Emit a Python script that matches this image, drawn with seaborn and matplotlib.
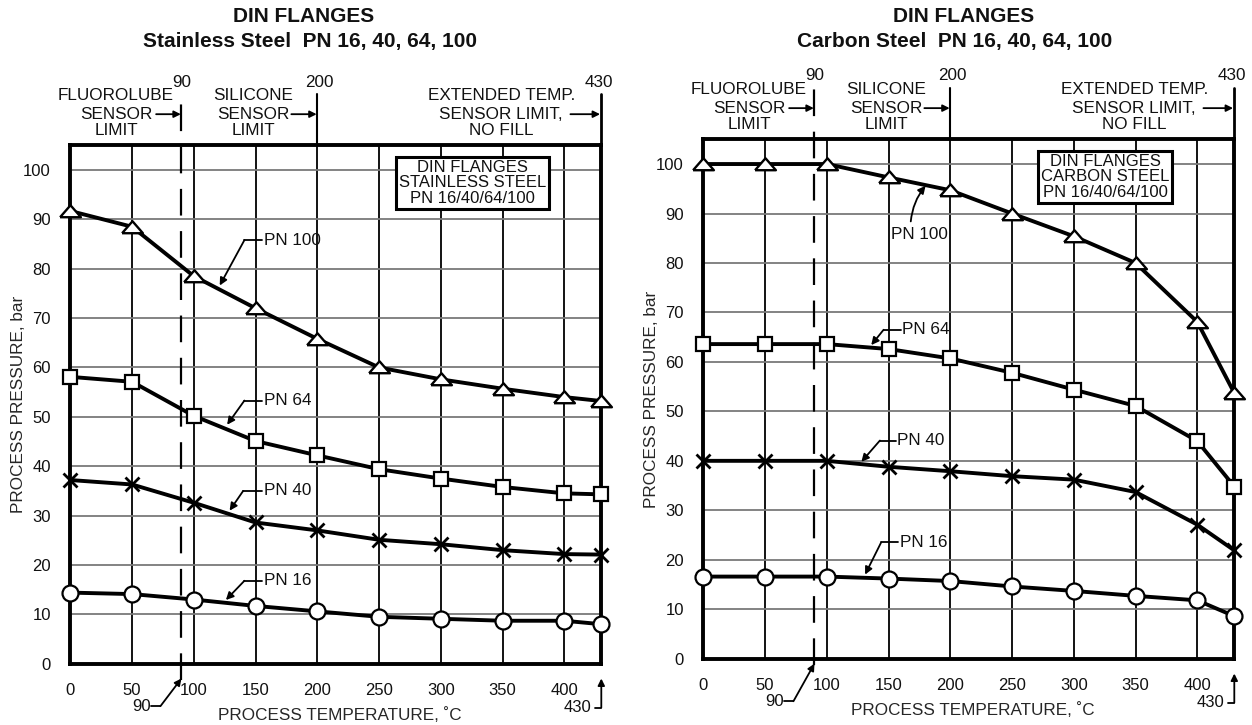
import matplotlib
matplotlib.use("Agg")
import matplotlib.pyplot as plt
from matplotlib import font_manager
import seaborn as sns

# process temperature, deg C
temps = [0, 50, 100, 150, 200, 250, 300, 350, 400, 430]
pn_labels = ["PN 100", "PN 64", "PN 40", "PN 16"]

# stainless steel, bar
ss_pn100 = [91.7, 88.5, 78.5, 72.0, 65.8, 60.0, 57.6, 55.7, 54.0, 53.2]
ss_pn64 = [58.1, 57.1, 50.2, 45.1, 42.2, 39.4, 37.5, 35.8, 34.5, 34.3]
ss_pn40 = [37.2, 36.3, 32.6, 28.6, 27.0, 25.1, 24.2, 23.0, 22.2, 22.1]
ss_pn16 = [14.4, 14.1, 13.0, 11.7, 10.6, 9.5, 9.1, 8.7, 8.7, 8.0]

# carbon steel, bar
cs_pn100 = [100.0, 100.0, 100.0, 97.3, 94.7, 90.0, 85.4, 80.0, 68.1, 53.7]
cs_pn64 = [63.6, 63.6, 63.6, 62.6, 60.7, 57.8, 54.4, 51.1, 44.0, 34.8]
cs_pn40 = [40.0, 40.0, 40.0, 38.8, 37.9, 36.9, 36.2, 33.7, 27.1, 21.9]
cs_pn16 = [16.6, 16.6, 16.6, 16.2, 15.7, 14.6, 13.7, 12.7, 11.8, 8.6]

x_ticks = [0, 50, 100, 150, 200, 250, 300, 350, 400, 430]
x_ticklabels = ["0", "50", "100", "150", "200", "250", "300", "350", "400", ""]
y_ticks = list(range(0, 101, 10))

sns.set_style("white")
available = {f.name for f in font_manager.fontManager.ttflist}
base_font = "Liberation Sans" if "Liberation Sans" in available else "DejaVu Sans"
plt.rcParams["font.family"] = [base_font, "DejaVu Sans"]
plt.rcParams["text.color"] = "#111111"

# the drawing uses wide, flat triangles
flat_triangle = [(-1, -0.55), (1, -0.55), (0, 0.6), (-1, -0.55)]
MARKERS = {
    "PN 100": dict(marker=flat_triangle, ms=15, mew=1.7),
    "PN 64": dict(marker="s", ms=10.5, mew=1.6),
    "PN 40": dict(marker="x", ms=10, mew=2.0),
    "PN 16": dict(marker="o", ms=11.5, mew=1.6),
}
FS = 12.3
TICK_FS = 12


def leader(ax, label, text_xy, corner_xy, tip_xy):
    """horizontal stub from text, then arrow down to the curve"""
    ax.plot([corner_xy[0], text_xy[0] - 1], [corner_xy[1], text_xy[1]],
            color="k", lw=1.3, clip_on=False, zorder=6)
    ax.annotate("", xy=tip_xy, xytext=corner_xy,
                arrowprops=dict(arrowstyle="-|>", color="k", lw=1.3,
                                mutation_scale=11, shrinkA=0, shrinkB=0),
                zorder=6)
    ax.text(text_xy[0], text_xy[1], label, ha="left", va="center",
            fontsize=FS, zorder=6)


def draw_panel(ax, series, box_text, leaders, bottom90_tip, dash_bottom):
    ax.set_xlim(0, 430)
    ax.set_ylim(0, 105)

    for label, vals in zip(pn_labels, series):
        sns.lineplot(x=temps, y=vals, ax=ax, color="k", lw=2.8,
                     mfc="white", mec="k", clip_on=False, zorder=5,
                     **MARKERS[label])

    ax.set_xticks(x_ticks)
    ax.set_xticklabels(x_ticklabels)
    ax.set_yticks(y_ticks)
    ax.tick_params(axis="both", direction="out", length=9, width=1.3,
                   labelsize=TICK_FS, pad=5, color="k", labelcolor="#111111")
    ax.set_axisbelow(True)
    ax.grid(axis="x", color="k", lw=1.3)
    ax.grid(axis="y", color="#7a7a7a", lw=1.3)
    for sp in ax.spines.values():
        sp.set_visible(True)
        sp.set_linewidth(2.8)
        sp.set_color("k")

    ax.set_xlabel("PROCESS TEMPERATURE, \u02daC", fontsize=FS, va="center")
    ax.xaxis.set_label_coords(218 / 430, -10.4 / 105)
    ax.set_ylabel("PROCESS PRESSURE, bar", fontsize=FS, va="center")
    ax.yaxis.set_label_coords(-0.098, 0.5)

    # limit lines sticking out above the frame
    ax.plot([200, 200], [105, 115.4], color="k", lw=1.5, clip_on=False)
    ax.plot([430, 430], [105, 115.4], color="k", lw=2.0, clip_on=False)
    ax.plot([90, 90], [dash_bottom, 115.4], color="k", lw=1.6,
            dashes=(12, 7), clip_on=False, zorder=3)

    for xv, txt in [(90.5, "90"), (201.5, "200"), (428, "430")]:
        ax.text(xv, 117.8, txt, ha="center", va="center", fontsize=FS,
                clip_on=False)

    blocks = [
        (37, ["FLUOROLUBE", "SENSOR", "LIMIT"], (69.5, 89.5)),
        (148, ["SILICONE", "SENSOR", "LIMIT"], (179, 199.5)),
        (349, ["EXTENDED TEMP.", "SENSOR LIMIT,", "NO FILL"], (405, 429)),
    ]
    for xc, lines, (a0, a1) in blocks:
        for yv, txt in zip([115.0, 111.3, 107.9], lines):
            ax.text(xc, yv, txt, ha="center", va="center", fontsize=FS,
                    clip_on=False)
        ax.annotate("", xy=(a1, 111.3), xytext=(a0, 111.3),
                    arrowprops=dict(arrowstyle="-|>", color="k", lw=1.3,
                                    mutation_scale=10, shrinkA=0, shrinkB=0),
                    annotation_clip=False)

    # bottom call-outs for 90 and 430
    ax.plot([65.5, 73], [-8.6, -8.6], color="k", lw=1.3, clip_on=False)
    ax.annotate("", xy=(90, bottom90_tip), xytext=(73, -8.6),
                arrowprops=dict(arrowstyle="-|>", color="k", lw=1.3,
                                mutation_scale=10, shrinkA=0, shrinkB=0),
                annotation_clip=False)
    ax.text(65, -8.6, "90", ha="right", va="center", fontsize=TICK_FS)
    ax.plot([425, 430], [-8.9, -8.9], color="k", lw=1.3, clip_on=False)
    ax.annotate("", xy=(430, -3.0), xytext=(430, -8.9),
                arrowprops=dict(arrowstyle="-|>", color="k", lw=1.3,
                                mutation_scale=10, shrinkA=0, shrinkB=0),
                annotation_clip=False)
    ax.text(422, -8.9, "430", ha="right", va="center", fontsize=TICK_FS)

    ax.text(325.5, 97.4, box_text, ha="center", va="center", fontsize=12,
            linespacing=1.05, zorder=7,
            bbox=dict(boxstyle="square,pad=0.18", fc="white", ec="k", lw=2.2))

    for label, t, c, tip in leaders:
        leader(ax, label, t, c, tip)


fig = plt.figure(figsize=(12.52, 7.25), dpi=100)
W, H = 1252.0, 725.0
ax_ss = fig.add_axes([70.3 / W, (H - 663.7) / H, 531 / W, 518.4 / H])
ax_cs = fig.add_axes([703.3 / W, (H - 658.7) / H, 531 / W, 519.4 / H])

draw_panel(
    ax_ss, [ss_pn100, ss_pn64, ss_pn40, ss_pn16],
    "DIN FLANGES\nSTAINLESS STEEL\nPN 16/40/64/100",
    [("PN 100", (156.5, 85.8), (141, 85.8), (121, 76.6)),
     ("PN 64", (156.5, 53.3), (141, 53.3), (127, 48.4)),
     ("PN 40", (156.5, 35.0), (140, 35.0), (129, 31.0)),
     ("PN 16", (156.5, 16.8), (141, 16.8), (126, 12.9))],
    bottom90_tip=-3.0, dash_bottom=-3.4)

draw_panel(
    ax_cs, [cs_pn100, cs_pn64, cs_pn40, cs_pn16],
    "DIN FLANGES\nCARBON STEEL\nPN 16/40/64/100",
    [("PN 64", (161, 66.5), (146, 66.5), (136, 63.4)),
     ("PN 40", (157, 44.1), (143, 44.1), (128, 39.8)),
     ("PN 16", (159, 23.5), (144, 23.5), (131, 17.0))],
    bottom90_tip=-1.0, dash_bottom=-1.2)

# PN 100 on carbon steel has a plain pointer from the text up to the curve
ax_cs.text(152, 85.7, "PN 100", ha="left", va="center", fontsize=FS, zorder=6)
ax_cs.annotate("", xy=(180, 95.6), xytext=(168, 88.4),
               arrowprops=dict(arrowstyle="-|>", color="k", lw=1.3,
                               mutation_scale=11, shrinkA=0, shrinkB=0,
                               connectionstyle="arc3,rad=-0.15"),
               zorder=6)

for (x1, x2), (t1, t2) in [((304, 310), ("DIN FLANGES", "Stainless Steel  PN 16, 40, 64, 100")),
                           ((964, 955), ("DIN FLANGES", "Carbon Steel  PN 16, 40, 64, 100"))]:
    fig.text(x1 / W, 1 - 17 / H, t1, ha="center", va="center",
             fontsize=15, fontweight="bold")
    fig.text(x2 / W, 1 - 42 / H, t2, ha="center", va="center",
             fontsize=15, fontweight="bold")

fig.savefig("out.png", dpi=100, facecolor="white")
